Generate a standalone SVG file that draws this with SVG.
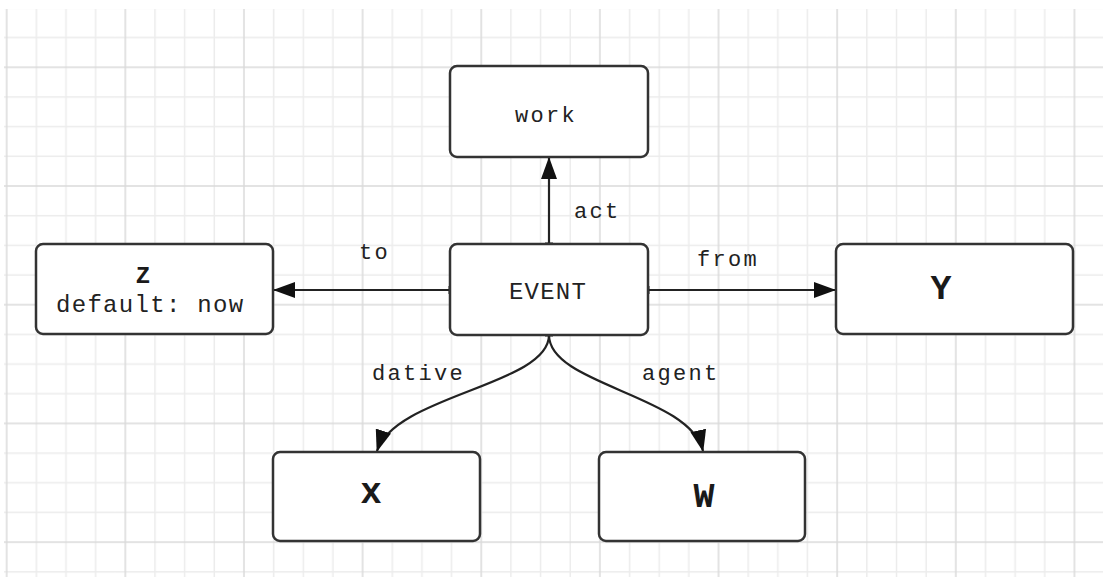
<svg xmlns="http://www.w3.org/2000/svg" width="1103" height="577" viewBox="0 0 1103 577">
  <style>
    .box { fill: #ffffff; stroke: #333333; stroke-width: 2.5; }
    .edge { fill: none; stroke: #222222; stroke-width: 2.2; }
    .tick { fill: #222222; }
    .lbl { font-family: "Liberation Mono", "Courier New", monospace; font-size: 22px; letter-spacing: 2.3px; fill: #222222; }
    .big { font-family: "Liberation Mono", "Courier New", monospace; font-weight: bold; fill: #1a1a1a; text-anchor: middle; }
  </style>
  <defs>
    <pattern id="grid" patternUnits="userSpaceOnUse" x="-3.3" y="-61.42" width="118.64" height="118.72">
      <g stroke="#ececec" stroke-width="1.5">
        <line x1="39.66" y1="0" x2="39.66" y2="118.72"/>
        <line x1="69.32" y1="0" x2="69.32" y2="118.72"/>
        <line x1="98.98" y1="0" x2="98.98" y2="118.72"/>
        <line x1="0" y1="39.68" x2="118.64" y2="39.68"/>
        <line x1="0" y1="69.36" x2="118.64" y2="69.36"/>
        <line x1="0" y1="99.04" x2="118.64" y2="99.04"/>
      </g>
      <g stroke="#dadada" stroke-width="1.5">
        <line x1="10" y1="0" x2="10" y2="118.72"/>
        <line x1="0" y1="10" x2="118.64" y2="10"/>
      </g>
    </pattern>
    <marker id="arrow" markerUnits="userSpaceOnUse" markerWidth="22" markerHeight="16" refX="21" refY="8" orient="auto">
      <path d="M0,0 L22,8 L0,16 z" fill="#111111"/>
    </marker>
  </defs>

  <!-- paper -->
  <rect x="0" y="0" width="1103" height="577" fill="#ffffff"/>
  <rect x="4" y="9" width="1099" height="568" fill="url(#grid)"/>

  <!-- connectors -->
  <g id="connectors">
    <line class="edge" x1="549" y1="244" x2="549" y2="158" marker-end="url(#arrow)"/>
    <line class="edge" x1="450" y1="290" x2="274" y2="290" marker-end="url(#arrow)"/>
    <line class="edge" x1="648" y1="290" x2="835" y2="290" marker-end="url(#arrow)"/>
    <path class="edge" d="M549,335 C549,385 395,395 377,451" marker-end="url(#arrow)"/>
    <path class="edge" d="M549,335 C549,385 690,395 703,451" marker-end="url(#arrow)"/>
    <rect class="tick" x="545" y="242.5" width="8" height="3"/>
    <rect class="tick" x="448.5" y="286" width="3" height="8"/>
    <rect class="tick" x="646.5" y="286" width="3" height="8"/>
    <rect class="tick" x="545" y="333.5" width="8" height="3"/>
    <text class="lbl" x="574" y="218">act</text>
    <text class="lbl" x="359" y="259">to</text>
    <text class="lbl" x="697" y="266">from</text>
    <text class="lbl" x="372" y="380">dative</text>
    <text class="lbl" x="642" y="380">agent</text>
  </g>

  <g id="node-work">
    <rect class="box" x="450" y="66" width="198" height="91" rx="7"/>
    <text class="lbl" x="515" y="122">work</text>
  </g>

  <g id="node-event">
    <rect class="box" x="450" y="244" width="198" height="91" rx="7"/>
    <text class="lbl" x="509" y="299" style="font-size:24px;letter-spacing:1.2px">EVENT</text>
  </g>

  <g id="node-z">
    <rect class="box" x="36" y="244" width="237" height="90" rx="7"/>
    <text class="big" x="143" y="283" font-size="24">Z</text>
    <text class="lbl" x="56" y="312" style="font-size:24px;letter-spacing:1.3px">default: now</text>
  </g>

  <g id="node-y">
    <rect class="box" x="836" y="244" width="237" height="90" rx="7"/>
    <text class="big" x="941" y="299" font-size="35">Y</text>
  </g>

  <g id="node-x">
    <rect class="box" x="273" y="452" width="207" height="89" rx="7"/>
    <text class="big" x="371" y="503" font-size="36">x</text>
  </g>

  <g id="node-w">
    <rect class="box" x="599" y="452" width="206" height="89" rx="7"/>
    <text class="big" x="704" y="507" font-size="35">W</text>
  </g>
</svg>
